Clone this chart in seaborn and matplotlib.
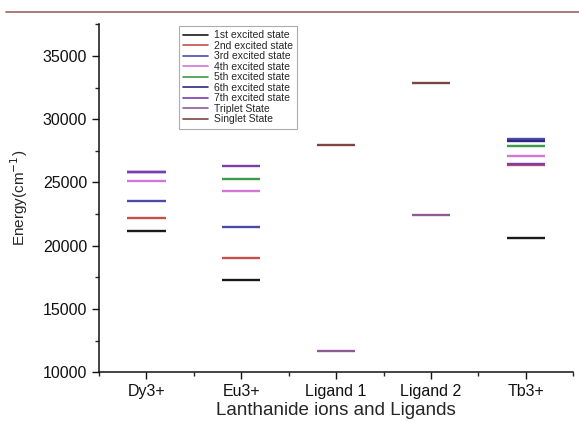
import pandas as pd
import numpy as np
import seaborn as sns
import matplotlib.pyplot as plt
from matplotlib.lines import Line2D
from matplotlib.ticker import MultipleLocator

# energy levels (cm^-1), NaN = not shown
groups = ["Dy3+", "Eu3+", "Ligand 1", "Ligand 2", "Tb3+"]
states = ["1st excited state", "2nd excited state", "3rd excited state",
          "4th excited state", "5th excited state", "6th excited state",
          "7th excited state", "Triplet State", "Singlet State"]

first = [21200, 17300, np.nan, np.nan, 20600]
second = [22200, 19000, np.nan, np.nan, 26350]
third = [23500, 21500, np.nan, np.nan, 28400]
fourth = [25100, 24300, np.nan, np.nan, 27100]
fifth = [np.nan, 25300, np.nan, np.nan, 27850]
sixth = [25850, np.nan, np.nan, np.nan, 28300]
seventh = [25800, 26300, np.nan, np.nan, 26500]
triplet = [np.nan, np.nan, 11700, 22400, np.nan]
singlet = [np.nan, np.nan, 28000, 32900, np.nan]

colors = ["#1a1a1a", "#c8504a", "#4a4aa8", "#d276d8", "#3c9a48",
          "#2a2a80", "#7a3cb0", "#8f5a9a", "#7e4444"]

values = [first, second, third, fourth, fifth, sixth, seventh, triplet, singlet]
rows = []
for st, vals in zip(states, values):
    for g, v in zip(groups, vals):
        rows.append({"group": g, "state": st, "energy": v})
df = pd.DataFrame(rows).dropna()
# keep the category order on the x axis
df["group"] = pd.Categorical(df["group"], categories=groups, ordered=True)
df = df.sort_values("group", kind="stable")

sns.set_style("ticks")
plt.rcParams['font.family'] = ['Liberation Sans', 'DejaVu Sans']

fig = plt.figure(figsize=(5.79, 4.21), dpi=100)
ax = fig.add_axes([0.171, 0.116, 0.819, 0.826])

sns.scatterplot(data=df, x="group", y="energy", hue="state", hue_order=states,
                palette=colors, marker="_", s=760, linewidth=1.7, legend=False, ax=ax)

ax.set_xticks(range(len(groups)))
ax.set_xticklabels(groups)
ax.set_xlim(-0.5, 4.5)
ax.set_ylim(10000, 37500)
ax.set_yticks(range(10000, 35001, 5000))
ax.yaxis.set_minor_locator(MultipleLocator(2500))
ax.xaxis.set_minor_locator(MultipleLocator(0.5))
ax.tick_params(axis="both", which="major", length=5, width=1, labelsize=11.5, colors="#111111")
ax.tick_params(axis="both", which="minor", length=3, width=1)
for s in ["top", "right"]:
    ax.spines[s].set_visible(False)
for s in ["left", "bottom"]:
    ax.spines[s].set_linewidth(1.1)
    ax.spines[s].set_color("#111111")

ax.set_xlabel("Lanthanide ions and Ligands", fontsize=13.5, labelpad=2)
ax.set_ylabel("Energy(cm$^{-1}$)", fontsize=11, labelpad=9)

handles = [Line2D([0], [0], color=c, lw=1.2) for c in colors]
leg = ax.legend(handles, states, loc="upper left", bbox_to_anchor=(0.158, 1.01),
                fontsize=7.5, frameon=True, fancybox=False, handlelength=2.4,
                handletextpad=0.5, labelspacing=0.05, borderpad=0.4)
leg.get_frame().set_edgecolor("#999999")
leg.get_frame().set_linewidth(0.8)

# page rule above the figure
fig.add_artist(Line2D([0.01, 1.0], [0.972, 0.972], color="#a06464", lw=1.2))

fig.savefig("out.png", dpi=100)
